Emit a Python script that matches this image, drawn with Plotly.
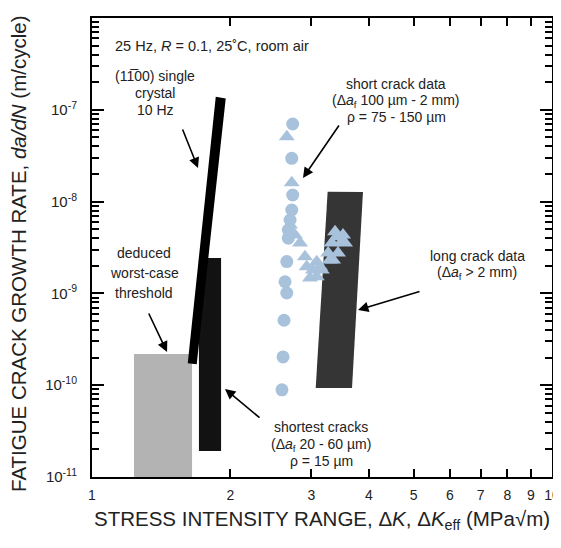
import plotly.graph_objects as go
import numpy as np

# ---------------- data ----------------
# short crack data: circles
circ_dk = [2.731, 2.718, 2.731, 2.718, 2.695, 2.672, 2.672, 2.651, 2.628, 2.651, 2.615, 2.602, 2.588]
circ_rate = [7.0e-8, 2.96e-8, 1.18e-8, 8.1e-9, 6.3e-9, 4.9e-9, 4.0e-9, 2.22e-9, 1.34e-9, 1.01e-9, 5.1e-10, 2.03e-10, 8.9e-11]
# short crack data: triangles
tri_dk = [2.651, 2.718, 2.695, 2.762, 2.833, 2.904, 2.929, 3.023, 3.080, 3.131, 2.978, 3.080,
          3.261, 3.320, 3.404, 3.490, 3.548, 3.426, 3.342, 3.376, 3.513, 3.291, 3.159]
tri_rate = [5.09e-8, 1.6e-8, 5.56e-9, 4.33e-9, 3.54e-9, 2.51e-9, 1.95e-9, 1.80e-9, 2.21e-9, 1.95e-9, 1.47e-9, 1.52e-9,
            2.75e-9, 3.54e-9, 4.15e-9, 3.66e-9, 3.54e-9, 2.75e-9, 2.31e-9, 4.70e-9, 4.33e-9, 2.31e-9, 1.80e-9]
# deduced worst-case threshold band (gray)
thr_dk = [1.234, 1.650, 1.650, 1.234]
thr_rate = [1e-11, 1e-11, 2.19e-10, 2.19e-10]
# shortest cracks band (black)
sht_dk = [1.708, 1.908, 1.908, 1.708]
sht_rate = [1.92e-11, 1.92e-11, 2.43e-9, 2.43e-9]
# (1-100) single crystal band
sc_dk = [1.615, 1.689, 1.953, 1.858]
sc_rate = [1.73e-10, 1.69e-10, 1.33e-7, 1.39e-7]
# long crack data band
lc_dk = [3.064, 3.675, 3.882, 3.253]
lc_rate = [9.3e-11, 9.3e-11, 1.27e-8, 1.28e-8]

x_ticks = [1, 2, 3, 4, 5, 6, 7, 8, 9, 10]
y_decades = [1e-11, 1e-10, 1e-9, 1e-8, 1e-7, 1e-6]
y_labels = ["10<sup>-11</sup>", "10<sup>-10</sup>", "10<sup>-9</sup>", "10<sup>-8</sup>",
            "10<sup>-7</sup>", "10<sup>-6</sup>"]

FONT = "Liberation Sans, Arial, Helvetica, sans-serif"
BLUE = "#a9c2dc"
TXT = "#222222"

# the page body has an 8 px default margin: figure is shrunk so the frame lands where wanted
OFF = 8
W, H = 561 - OFF, 548 - OFF
# plot frame in screenshot pixels (for placing free text)
L, R, T, B = 92, 552, 18, 477

fig = go.Figure()

def band(xs, ys, color):
    fig.add_trace(go.Scatter(x=xs + xs[:1], y=ys + ys[:1], mode="lines", fill="toself",
                             fillcolor=color, line=dict(width=0, color=color),
                             hoverinfo="skip", showlegend=False))

band(thr_dk, thr_rate, "#b3b3b3")
band(sht_dk, sht_rate, "#121212")
band(sc_dk, sc_rate, "#000000")
band(lc_dk, lc_rate, "#353535")

fig.add_trace(go.Scatter(x=circ_dk, y=circ_rate, mode="markers",
                         marker=dict(symbol="circle", size=13, color=BLUE, line=dict(width=0)),
                         showlegend=False))
fig.add_trace(go.Scatter(x=tri_dk, y=tri_rate, mode="markers",
                         marker=dict(symbol="triangle-up", size=14, color=BLUE, line=dict(width=0)),
                         showlegend=False))

# minor ticks on y
y_minor = [m * 10.0 ** e for e in range(-11, -6) for m in range(2, 10)]

fig.update_xaxes(type="log", range=[0, 1], tickvals=x_ticks, ticktext=[str(v) for v in x_ticks],
                 ticks="inside", ticklen=8, tickwidth=2, tickcolor="black",
                 showline=True, linewidth=2, linecolor="black", mirror="ticks",
                 showgrid=False, zeroline=False, automargin=False, ticklabelstandoff=4,
                 tickfont=dict(family=FONT, size=14, color=TXT))
fig.update_yaxes(type="log", range=[-11, -6], tickvals=y_decades, ticktext=y_labels,
                 ticks="inside", ticklen=12, tickwidth=2, tickcolor="black",
                 minor=dict(tickvals=y_minor, ticks="inside", ticklen=7, tickwidth=1.5, tickcolor="black"),
                 showline=True, linewidth=2, linecolor="black", mirror="ticks",
                 showgrid=False, zeroline=False, automargin=False, ticklabelstandoff=10,
                 tickfont=dict(family=FONT, size=15, color=TXT))

def label(px, py, text, anchor="center", size=14, angle=0):
    fig.add_annotation(xref="paper", yref="paper", x=(px - L) / (R - L), y=(B - py) / (B - T),
                       text=text, showarrow=False, font=dict(family=FONT, size=size, color=TXT),
                       xanchor=anchor, yanchor="middle", align="center", textangle=angle)

# axis titles
label(322, 520, "STRESS INTENSITY RANGE, Δ<i>K</i>, Δ<i>K</i><sub>eff</sub> (MPa√m)", size=20.5)
label(18, 254, "FATIGUE CRACK GROWTH RATE, <i>da/dN</i> (m/cycle)", size=20.5, angle=-90)

label(113, 46, "25 Hz, <i>R</i> = 0.1, 25˚C, room air", anchor="left", size=14.5)
for t, yy in zip(["(11\u030500) single", "crystal", "10 Hz"], [76, 93, 110]):
    label(155, yy, t)
for t, yy in zip(["short crack data", "(Δ<i>a</i><sub>f</sub> 100 µm - 2 mm)", "ρ = 75 - 150 µm"], [84, 101, 117]):
    label(396, yy, t)
for t, yy in zip(["long crack data", "(Δ<i>a</i><sub>f</sub> > 2 mm)"], [256, 273]):
    label(477, yy, t)
for t, yy in zip(["deduced", "worst-case", "threshold"], [253, 273, 293]):
    label(144, yy, t)
for t, yy in zip(["shortest cracks", "(Δ<i>a</i><sub>f</sub> 20 - 60 µm)", "ρ = 15 µm"], [427, 445, 461]):
    label(321, yy, t)

def arrow(hx, hy, ax, ay):
    fig.add_annotation(xref="x", yref="y", x=np.log10(hx), y=np.log10(hy), ax=ax, ay=ay,
                       text="", showarrow=True, arrowhead=2, arrowsize=1.3, arrowwidth=1.6,
                       arrowcolor="black")

arrow(1.700, 2.32e-8, -16, -40)
arrow(2.875, 1.81e-8, 37, -54)
arrow(3.787, 6.59e-10, 63, -19)
arrow(1.456, 2.30e-10, -19, -40)
arrow(1.946, 9.1e-11, 36, 30)

fig.update_layout(width=W, height=H,
                  margin=dict(l=L - OFF, r=W - (R - OFF), t=T - OFF, b=H - (B - OFF)),
                  paper_bgcolor="white", plot_bgcolor="white", showlegend=False)

fig.write_html("out.html")
